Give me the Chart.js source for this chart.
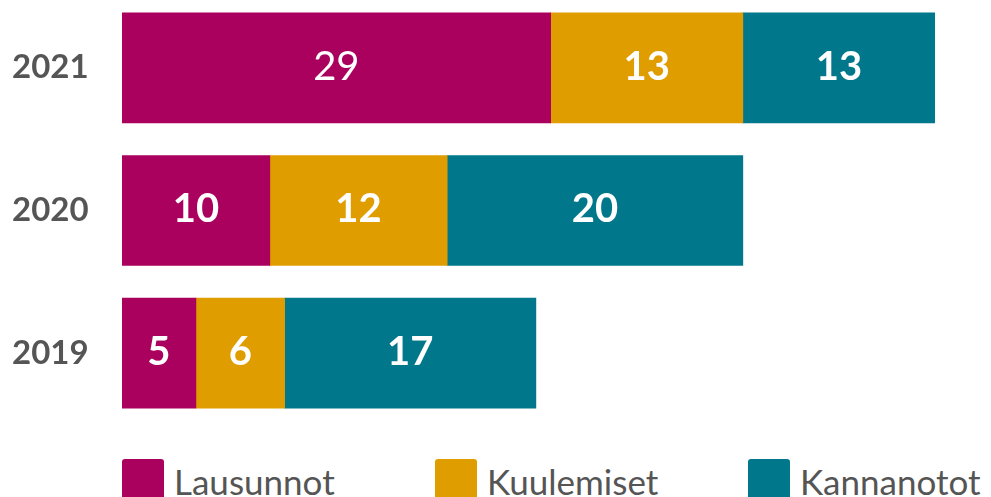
<!DOCTYPE html>
<html>
<head>
<meta charset="utf-8">
<script src="https://cdn.jsdelivr.net/npm/chart.js@4/dist/chart.umd.min.js"></script>
<style>
    html, body { margin: 0; padding: 0; background: #fff; overflow: hidden; }
    body { width: 991px; height: 497px; position: relative; font-family: Lato, sans-serif; }
    #wrap { position: absolute; left: 0; top: -20px; width: 991px; height: 461px; }
    #legend { position: absolute; left: 122px; top: 459px; display: flex; }
    .item { width: 313px; display: flex; align-items: flex-start; }
    .box { width: 42px; height: 42px; border-radius: 3px; margin-right: 10px; }
    .label { font-size: 35px; color: #555; line-height: 1; margin-top: 5px; }
</style>
</head>
<body>
<div id="wrap"><canvas id="barChart"></canvas></div>
<div id="legend"></div>
<script>
const years = ['2021', '2020', '2019'];
const seriesNames = ['Lausunnot', 'Kuulemiset', 'Kannanotot'];
const lausunnot = [29, 10, 5];
const kuulemiset = [13, 12, 6];
const kannanotot = [13, 20, 17];
const colors = ['#aa005e', '#e09d00', '#00778a'];

const values = [lausunnot, kuulemiset, kannanotot];

// white numbers in the middle of each segment
const segmentLabels = {
    id: 'segmentLabels',
    afterDatasetsDraw(chart) {
        const ctx = chart.ctx;
        ctx.save();
        ctx.fillStyle = '#fff';
        ctx.textAlign = 'center';
        ctx.textBaseline = 'middle';
        chart.data.datasets.forEach((ds, di) => {
            chart.getDatasetMeta(di).data.forEach((bar, i) => {
                // the 2021 Lausunnot figure is set in normal weight in the original
                const weight = (di === 0 && i === 0) ? 'normal' : 'bold';
                ctx.font = weight + ' 40px Lato, sans-serif';
                const cx = (bar.x + bar.base) / 2;
                ctx.fillText(String(ds.data[i]), cx, bar.y - 1);
            });
        });
        ctx.restore();
    }
};

const ctx = document.getElementById('barChart').getContext('2d');
new Chart(ctx, {
    type: 'bar',
    data: {
        labels: years,
        datasets: seriesNames.map((name, i) => ({
            label: name,
            data: values[i],
            backgroundColor: colors[i],
            borderWidth: 0,
            barThickness: 110
        }))
    },
    options: {
        indexAxis: 'y',
        responsive: true,
        maintainAspectRatio: false,
        animation: false,
        layout: { padding: { left: 12, right: 56, top: 0, bottom: 0 } },
        plugins: {
            legend: { display: false },
            tooltip: { enabled: false }
        },
        scales: {
            x: {
                stacked: true,
                display: false,
                min: 0,
                max: 55
            },
            y: {
                stacked: true,
                grid: { display: false },
                border: { display: false },
                ticks: {
                    padding: 0,
                    crossAlign: 'far',
                    color: '#555',
                    font: { family: 'Lato', size: 33, weight: 'bold', lineHeight: 1 }
                },
                afterFit(scale) { scale.width = 110; }
            }
        }
    },
    plugins: [segmentLabels]
});

const legend = document.getElementById('legend');
seriesNames.forEach((name, i) => {
    const item = document.createElement('div');
    item.className = 'item';
    item.innerHTML = '<div class="box" style="background:' + colors[i] + '"></div><span class="label">' + name + '</span>';
    legend.appendChild(item);
});
</script>
</body>
</html>
